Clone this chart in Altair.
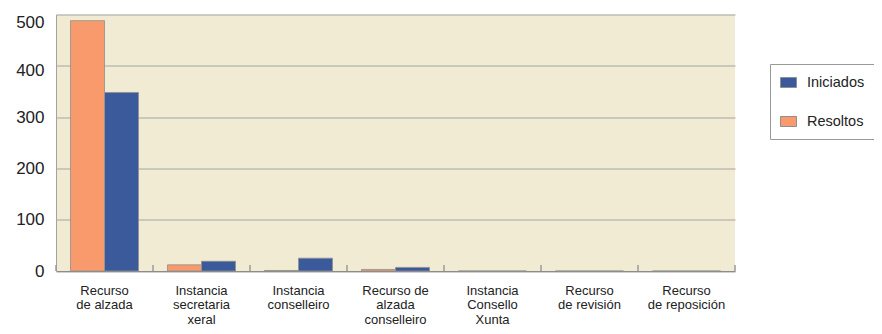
import altair as alt
import pandas as pd

categories = [
    "Recurso\nde alzada",
    "Instancia\nsecretaria\nxeral",
    "Instancia\nconselleiro",
    "Recurso de\nalzada\nconselleiro",
    "Instancia\nConsello\nXunta",
    "Recurso\nde revisión",
    "Recurso\nde reposición",
]
iniciados = [348, 19, 25, 7, 0, 0, 0]
resoltos = [488, 12, 1, 3, 0, 0, 0]
series = ["Iniciados", "Resoltos"]
colors = ["#3B5A9C", "#F89A6B"]
y_ticks = [0, 100, 200, 300, 400, 500]

rows = []
for c, a, b in zip(categories, iniciados, resoltos):
    rows.append({"cat": c, "serie": "Iniciados", "valor": a})
    rows.append({"cat": c, "serie": "Resoltos", "valor": b})
df = pd.DataFrame(rows)
cat_df = pd.DataFrame({"cat": categories})

W, H = 679, 256.5
FONT = "Liberation Sans"

x_scale = alt.Scale(paddingInner=0, paddingOuter=0)
x_axis = alt.Axis(
    title=None,
    labelAngle=0,
    labelExpr="split(datum.label, '\\n')",
    labelFont=FONT,
    labelFontSize=13,
    labelLineHeight=14.6,
    labelColor="#222222",
    labelPadding=13,
    labelBaseline="top",
    ticks=False,
    tickSize=0,
    domain=True,
    domainColor="#8c8c8c",
    domainWidth=1.2,
    grid=False,
)

bars = alt.Chart(df).mark_bar(stroke="#8f8f8f", strokeWidth=0.8).encode(
    x=alt.X("cat:N", sort=categories, scale=x_scale, axis=x_axis),
    xOffset=alt.XOffset(
        "serie:N",
        sort=["Resoltos", "Iniciados"],
        scale=alt.Scale(paddingOuter=0.426, paddingInner=0),
    ),
    y=alt.Y(
        "valor:Q",
        scale=alt.Scale(domain=[0, 500], nice=False),
        axis=alt.Axis(
            title=None,
            values=y_ticks,
            grid=True,
            gridColor="#a3a3a3",
            gridWidth=1,
            ticks=False,
            tickSize=0,
            domain=True,
            domainColor="#a3a3a3",
            labelFont=FONT,
            labelFontSize=17,
            labelColor="#222222",
            labelPadding=12,
            labelOffset={
                "condition": [
                    {"test": "datum.value == 500", "value": 8},
                    {"test": "datum.value == 400", "value": 5},
                ],
                "value": 0,
            },
        ),
    ),
    color=alt.Color(
        "serie:N",
        scale=alt.Scale(domain=series, range=colors),
        legend=alt.Legend(
            title=None,
            orient="none",
            legendX=714,
            legendY=49.5,
            strokeColor="#999999",
            padding=10,
            rowPadding=23,
            labelFont=FONT,
            labelFontSize=14.5,
            labelColor="#222222",
            labelOffset=10,
            symbolType="M-1,-0.625H1V0.625H-1Z",
            symbolSize=256,
            symbolStrokeColor="#8f8f8f",
            symbolStrokeWidth=1,
        ),
    ),
)

ticks = alt.Chart(cat_df).mark_rule(color="#9a9a9a", strokeWidth=1.5).encode(
    x=alt.X("cat:N", sort=categories, scale=x_scale, bandPosition=0, axis=x_axis),
    y=alt.value(H - 6),
    y2=alt.value(H),
)

end_tick = alt.Chart(alt.Data(values=[{}])).mark_rule(color="#9a9a9a", strokeWidth=1.5).encode(
    x=alt.value(W),
    y=alt.value(H - 6),
    y2=alt.value(H),
)

chart = (
    alt.layer(bars, ticks, end_tick)
    .properties(
        width=W,
        height=H,
        autosize=alt.AutoSizeParams(type="none"),
        padding={"left": 48, "top": 6.5, "right": 139, "bottom": 55},
        background="white",
    )
    .configure_view(fill="#F1EBD3", stroke=None)
)

chart.save("out.html", embed_options={"renderer": "svg", "actions": False})
